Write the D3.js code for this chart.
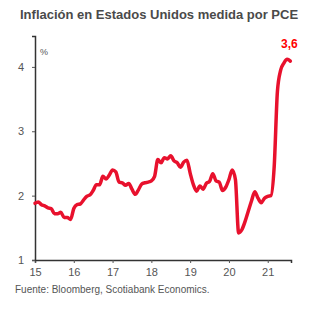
<!DOCTYPE html>
<html>
<head>
<meta charset="utf-8">
<script src="https://d3js.org/d3.v7.min.js"></script>
<style>
  body { margin: 0; background: #fff; }
  text { font-family: "Liberation Sans", Arial, sans-serif; }
</style>
</head>
<body>
<div id="chart"></div>
<script>
// PCE y/y, monthly from Jan 2015
var startYear = 15;
var pce = [
  1.88, 1.90, 1.86, 1.84, 1.81, 1.80, 1.72, 1.72, 1.74, 1.66, 1.66, 1.63,
  1.80, 1.86, 1.87, 1.93, 1.99, 2.01, 2.08, 2.17, 2.17, 2.30, 2.26, 2.32,
  2.40, 2.37, 2.21, 2.20, 2.16, 2.19, 2.10, 2.02, 2.09, 2.18, 2.20, 2.21,
  2.23, 2.30, 2.56, 2.51, 2.59, 2.57, 2.62, 2.54, 2.51, 2.44, 2.52, 2.55,
  2.35, 2.17, 2.07, 2.15, 2.10, 2.19, 2.22, 2.34, 2.23, 2.21, 2.08, 2.13,
  2.25, 2.40, 2.25, 1.42, 1.47, 1.60, 1.76, 1.92, 2.06, 1.96, 1.89, 1.96,
  1.99, 2.00, 2.45, 3.62, 3.95, 4.06, 4.12, 4.09
];
var yearTicks = [15, 16, 17, 18, 19, 20, 21];
var valueTicks = [1, 2, 3, 4];
var lastLabel = "3,6";

var svgWidth = 321;
var svgHeight = 323;

var svg = d3.select("#chart")
  .append("svg")
  .attr("width", svgWidth)
  .attr("height", svgHeight);

var data = pce.map(function(v, i) {
  return { t: startYear + i / 12, v: v };
});

var x = d3.scaleLinear()
  .domain([15, 21.6])
  .range([35, 291]);

var y = d3.scaleLinear()
  .domain([1, 4.48])
  .range([260, 36]);

// title
svg.append("text")
  .attr("x", 20)
  .attr("y", 19)
  .attr("font-size", 13)
  .attr("font-weight", "bold")
  .attr("fill", "#4a4a4a")
  .text("Inflación en Estados Unidos medida por PCE");

// axes
var xAxis = svg.append("g")
  .attr("transform", "translate(0," + y(1) + ")")
  .call(d3.axisBottom(x).tickValues(yearTicks).tickSize(3).tickPadding(5).tickFormat(d3.format("d")));

var yAxis = svg.append("g")
  .attr("transform", "translate(" + x(15) + ",0)")
  .call(d3.axisLeft(y).tickValues(valueTicks).tickSize(3).tickPadding(8).tickFormat(d3.format("d")));

[xAxis, yAxis].forEach(function(ax) {
  ax.select(".domain").attr("stroke", "#333").attr("stroke-width", 1.5);
  ax.selectAll(".tick line").attr("stroke", "#555");
  ax.selectAll(".tick text")
    .attr("fill", "#555")
    .attr("font-size", 11)
    .attr("font-family", "Liberation Sans, Arial, sans-serif");
});

// units
svg.append("text")
  .attr("x", 40)
  .attr("y", 55)
  .attr("font-size", 9)
  .attr("fill", "#555")
  .text("%");

// series
var line = d3.line()
  .x(d => x(d.t))
  .y(d => y(d.v))
  .curve(d3.curveMonotoneX);

svg.append("path")
  .datum(data)
  .attr("d", line)
  .attr("fill", "none")
  .attr("stroke", "#e8112d")
  .attr("stroke-width", 3.5)
  .attr("stroke-linejoin", "round")
  .attr("stroke-linecap", "round");

// end label
var last = data[data.length - 1];
svg.append("text")
  .attr("x", x(last.t) - 1)
  .attr("y", 48)
  .attr("text-anchor", "middle")
  .attr("font-size", 12)
  .attr("font-weight", "bold")
  .attr("fill", "#ff0000")
  .text(lastLabel);

// source
svg.append("text")
  .attr("x", 15)
  .attr("y", 293)
  .attr("font-size", 10)
  .attr("fill", "#555")
  .text("Fuente: Bloomberg, Scotiabank Economics.");
</script>
</body>
</html>
